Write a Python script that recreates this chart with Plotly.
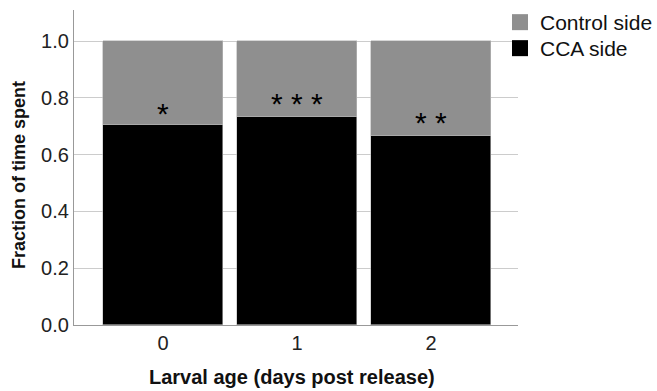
import plotly.graph_objects as go

categories = ["0", "1", "2"]
cca_side = [0.704, 0.733, 0.665]
control_side = [1 - v for v in cca_side]
stars = ["*", "* * *", "* *"]
star_y = [0.745, 0.78, 0.712]
y_ticks = [0.0, 0.2, 0.4, 0.6, 0.8, 1.0]

xpos = list(range(len(categories)))

L, R, T, B = 74, 139, 10, 66
W, H = 657, 391
pw, ph = W - L - R, H - T - B

fig = go.Figure()
fig.add_trace(go.Bar(x=xpos, y=cca_side, name="CCA side", width=0.896, showlegend=False,
                     marker=dict(color="#000000", line=dict(color="#bbbbbb", width=0.6))))
fig.add_trace(go.Bar(x=xpos, y=control_side, name="Control side", width=0.896, showlegend=False,
                     marker=dict(color="#8f8f8f", line=dict(color="#bbbbbb", width=0.6))))
# legend entries (no marks drawn)
fig.add_trace(go.Scatter(x=[None], y=[None], mode="markers", name="Control side",
                         legend="legend",
                         marker=dict(symbol="square", size=16, color="#8f8f8f")))
fig.add_trace(go.Scatter(x=[None], y=[None], mode="markers", name="CCA side",
                         legend="legend2",
                         marker=dict(symbol="square", size=16, color="#000000")))

for x, s, y in zip(xpos, stars, star_y):
    fig.add_annotation(x=x, y=y, text=s, showarrow=False,
                       font=dict(size=30, color="black", family="Liberation Sans, Arial"),
                       yanchor="middle")

# axis titles
fig.add_annotation(xref="paper", yref="paper", x=(292 - L) / pw, y=(H - B - 377) / ph,
                   text="<b>Larval age (days post release)</b>", showarrow=False,
                   font=dict(size=20, color="#111111"), xanchor="center", yanchor="middle")
fig.add_annotation(xref="paper", yref="paper", x=(19 - L) / pw, y=(H - B - 175) / ph,
                   text="<b>Fraction of time spent</b>", showarrow=False, textangle=-90,
                   font=dict(size=18, color="#111111"), xanchor="center", yanchor="middle")

legend_common = dict(xanchor="left", yanchor="middle",
                     font=dict(size=21, color="#111111"), bgcolor="rgba(0,0,0,0)",
                     itemsizing="trace", itemwidth=30)

fig.update_layout(
    barmode="stack",
    width=W, height=H,
    margin=dict(l=L, r=R, t=T, b=B, autoexpand=False),
    paper_bgcolor="white", plot_bgcolor="white",
    font=dict(family="Liberation Sans, Arial", color="#222222"),
    showlegend=True,
    legend=dict(x=(500 - L) / pw, y=(H - B - 22.5) / ph, **legend_common),
    legend2=dict(x=(500 - L) / pw, y=(H - B - 48.5) / ph, **legend_common),
    bargap=0,
)
fig.update_xaxes(range=[-0.664, 2.649], tickvals=xpos, ticktext=categories,
                 showline=True, linecolor="#999999", linewidth=1.2,
                 showgrid=False, ticks="", tickfont=dict(size=20, color="#222222"),
                 automargin=False)
fig.update_yaxes(range=[0, 1.11], tickvals=y_ticks, tickformat=".1f",
                 showline=True, linecolor="#999999", linewidth=1.2,
                 showgrid=True, gridcolor="#cccccc", gridwidth=1,
                 ticks="", tickfont=dict(size=20, color="#222222"),
                 zeroline=False, automargin=False)

fig.write_html("out.html", config={"displayModeBar": False},
               post_script="document.body.style.margin='0px';")
